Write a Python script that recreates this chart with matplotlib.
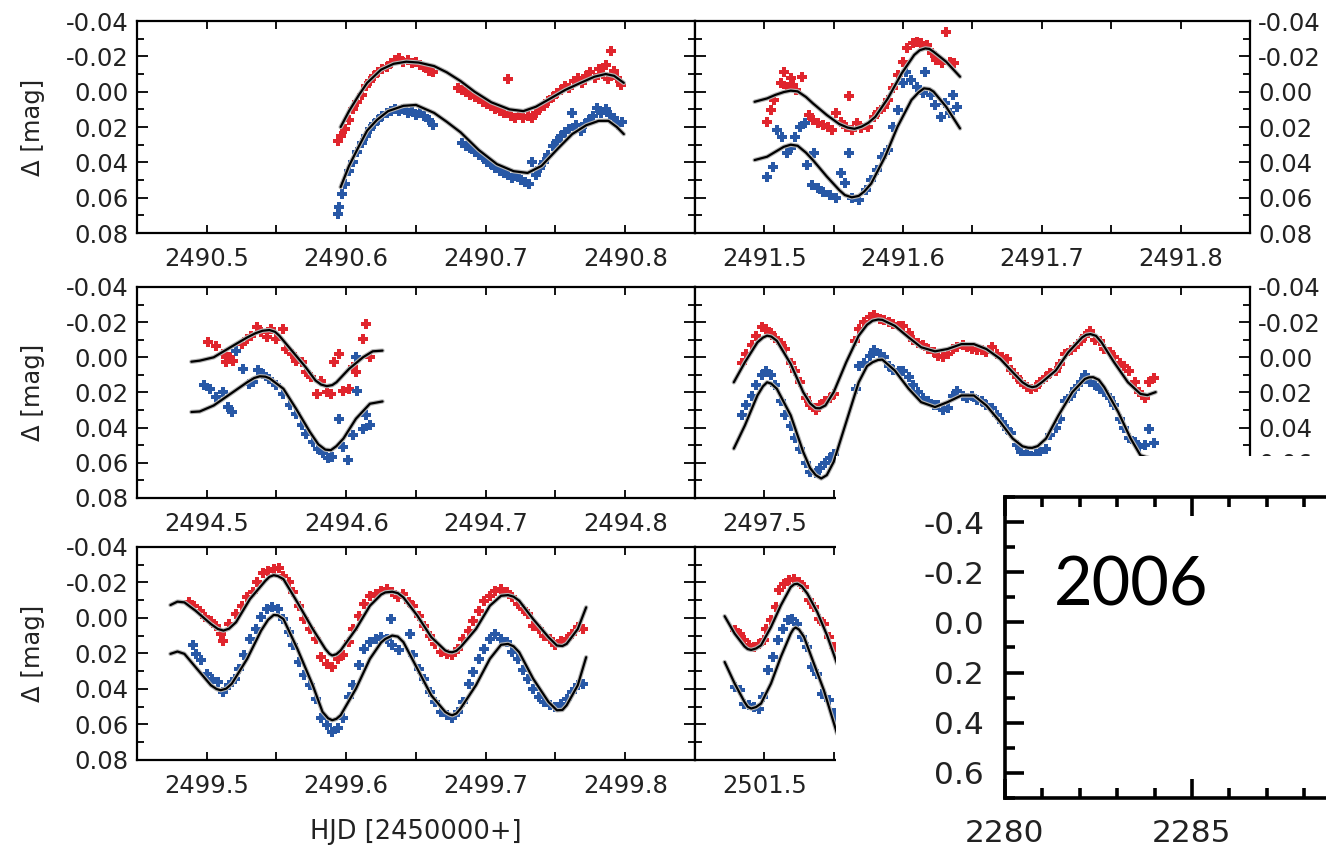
import matplotlib
matplotlib.use('Agg')
import matplotlib.pyplot as plt
from matplotlib.ticker import MultipleLocator, FuncFormatter, FixedLocator

plt.rcParams['axes.unicode_minus'] = False
plt.rcParams['font.family'] = ['DejaVu Sans']

RED = '#e0252d'
BLUE = '#2858a6'
TXT = '#222222'

### Panel 1: 2490.45 - 2490.85
tl_red_x = [2490.594, 2490.596, 2490.599, 2490.602, 2490.605, 2490.608, 2490.611, 2490.614, 2490.617, 2490.620,
            2490.623, 2490.626, 2490.629, 2490.632, 2490.635, 2490.638, 2490.641, 2490.644, 2490.647, 2490.650,
            2490.653, 2490.656, 2490.659, 2490.662, 2490.680, 2490.683, 2490.686, 2490.689, 2490.692, 2490.695,
            2490.698, 2490.701, 2490.704, 2490.707, 2490.710, 2490.713, 2490.716, 2490.718, 2490.721, 2490.724,
            2490.727, 2490.730, 2490.733, 2490.736, 2490.739, 2490.742, 2490.745, 2490.748, 2490.751, 2490.754,
            2490.757, 2490.760, 2490.763, 2490.766, 2490.769, 2490.772, 2490.775, 2490.778, 2490.781, 2490.784,
            2490.786, 2490.788, 2490.790, 2490.792, 2490.794, 2490.797]
tl_red_y = [0.028, 0.025, 0.021, 0.016, 0.010, 0.006, 0.002, -0.003, -0.006, -0.009,
            -0.011, -0.013, -0.014, -0.016, -0.018, -0.019, -0.017, -0.018, -0.016, -0.017,
            -0.015, -0.014, -0.012, -0.011, -0.002, -0.001, 0.000, 0.002, 0.003, 0.004,
            0.006, 0.007, 0.008, 0.010, 0.011, 0.012, -0.007, 0.014, 0.015, 0.013,
            0.015, 0.014, 0.015, 0.012, 0.009, 0.008, 0.005, 0.003, 0.001, -0.001,
            -0.003, -0.002, -0.006, -0.008, -0.005, -0.009, -0.011, -0.008, -0.013, -0.010,
            -0.015, -0.007, -0.023, -0.012, -0.008, -0.004]
tl_blue_x = [2490.594, 2490.595, 2490.597, 2490.599, 2490.602, 2490.605, 2490.608, 2490.611, 2490.614, 2490.617,
             2490.620, 2490.623, 2490.626, 2490.629, 2490.632, 2490.635, 2490.638, 2490.641, 2490.644, 2490.647,
             2490.650, 2490.653, 2490.656, 2490.659, 2490.662, 2490.683, 2490.686, 2490.689, 2490.692, 2490.695,
             2490.698, 2490.701, 2490.704, 2490.707, 2490.710, 2490.713, 2490.716, 2490.719, 2490.722, 2490.725,
             2490.728, 2490.731, 2490.733, 2490.736, 2490.739, 2490.742, 2490.745, 2490.748, 2490.751, 2490.754,
             2490.757, 2490.760, 2490.762, 2490.765, 2490.768, 2490.771, 2490.774, 2490.777, 2490.780, 2490.783,
             2490.786, 2490.789, 2490.792, 2490.795, 2490.798]
tl_blue_y = [0.069, 0.065, 0.058, 0.052, 0.045, 0.040, 0.034, 0.029, 0.025, 0.021,
             0.018, 0.016, 0.014, 0.012, 0.011, 0.010, 0.011, 0.010, 0.012, 0.011,
             0.013, 0.012, 0.014, 0.016, 0.019, 0.029, 0.031, 0.032, 0.034, 0.036,
             0.037, 0.040, 0.041, 0.043, 0.045, 0.046, 0.047, 0.049, 0.048, 0.050,
             0.051, 0.052, 0.040, 0.047, 0.043, 0.040, 0.036, 0.031, 0.028, 0.025,
             0.023, 0.021, 0.012, 0.019, 0.022, 0.018, 0.016, 0.014, 0.009, 0.012,
             0.010, 0.013, 0.015, 0.019, 0.017]
tl_fit_red_x = [2490.596, 2490.602, 2490.609, 2490.615, 2490.625, 2490.634, 2490.643, 2490.652, 2490.663, 2490.672,
                2490.682, 2490.692, 2490.704, 2490.717, 2490.727, 2490.736, 2490.746, 2490.757, 2490.768, 2490.778,
                2490.786, 2490.792, 2490.799]
tl_fit_red_y = [0.020, 0.011, 0.002, -0.005, -0.0125, -0.0158, -0.017, -0.0165, -0.0145, -0.011,
                -0.006, 0.000, 0.006, 0.010, 0.011, 0.0085, 0.004, -0.001, -0.005, -0.0085,
                -0.010, -0.009, -0.005]
tl_fit_blue_x = [2490.596, 2490.602, 2490.609, 2490.615, 2490.622, 2490.630, 2490.641, 2490.650, 2490.663, 2490.672,
                 2490.682, 2490.695, 2490.708, 2490.720, 2490.730, 2490.740, 2490.752, 2490.762, 2490.772, 2490.781,
                 2490.788, 2490.794, 2490.799]
tl_fit_blue_y = [0.054, 0.042, 0.031, 0.022, 0.016, 0.011, 0.008, 0.0075, 0.012, 0.017,
                 0.023, 0.033, 0.041, 0.045, 0.046, 0.042, 0.032, 0.024, 0.019, 0.0165,
                 0.0165, 0.020, 0.024]

### Panel 2: 2491.45 - 2491.85
tr_red_x = [2491.502, 2491.505, 2491.507, 2491.512, 2491.514, 2491.516, 2491.519, 2491.521, 2491.523, 2491.527,
            2491.532, 2491.535, 2491.539, 2491.542, 2491.546, 2491.549, 2491.552, 2491.555, 2491.559, 2491.561,
            2491.563, 2491.567, 2491.570, 2491.575, 2491.579, 2491.582, 2491.586, 2491.589, 2491.593, 2491.596,
            2491.600, 2491.603, 2491.607, 2491.610, 2491.613, 2491.617, 2491.621, 2491.624, 2491.628, 2491.631,
            2491.634, 2491.637]
tr_red_y = [0.017, 0.0104, 0.0047, -0.0047, -0.0113, -0.0028, -0.0075, -0.0038, -0.0009, -0.0081,
            0.0132, 0.016, 0.0179, 0.0189, 0.0198, 0.0217, 0.0123, 0.017, 0.0198, 0.0025,
            0.0217, 0.0179, 0.0208, 0.0198, 0.0142, 0.0113, 0.0085, 0.0047, -0.0019, -0.0094,
            -0.017, -0.0245, -0.0274, -0.0283, -0.0274, -0.0264, -0.0217, -0.0179, -0.016, -0.034,
            -0.017, -0.016]
tr_blue_x = [2491.502, 2491.506, 2491.509, 2491.513, 2491.516, 2491.519, 2491.522, 2491.526, 2491.529, 2491.531,
             2491.534, 2491.536, 2491.539, 2491.542, 2491.547, 2491.552, 2491.555, 2491.558, 2491.561, 2491.563,
             2491.568, 2491.573, 2491.577, 2491.581, 2491.585, 2491.589, 2491.593, 2491.596, 2491.600, 2491.602,
             2491.606, 2491.610, 2491.614, 2491.616, 2491.620, 2491.623, 2491.627, 2491.630, 2491.634, 2491.636,
             2491.639]
tr_blue_y = [0.0481, 0.0425, 0.0217, 0.0255, 0.0349, 0.032, 0.0255, 0.0198, 0.0179, 0.0415,
             0.0528, 0.0349, 0.0547, 0.0566, 0.0585, 0.0604, 0.0462, 0.0519, 0.0349, 0.0604,
             0.0613, 0.0557, 0.050, 0.0443, 0.0368, 0.033, 0.0198, 0.0104, -0.0047, -0.0113,
             -0.0066, -0.0028, 0.0009, -0.0113, 0.0019, 0.0075, 0.0142, 0.0066, 0.0123, 0.0019,
             0.0085]
tr_fit_red_x = [2491.493, 2491.502, 2491.508, 2491.514, 2491.519, 2491.524, 2491.530, 2491.535, 2491.545, 2491.554,
                2491.560, 2491.565, 2491.570, 2491.575, 2491.580, 2491.589, 2491.599, 2491.608, 2491.612, 2491.616,
                2491.619, 2491.622, 2491.631, 2491.641]
tr_fit_red_y = [0.0057, 0.0038, 0.0018, 0.0002, -0.0006, -0.0002, 0.0030, 0.0066, 0.0132, 0.0183,
                0.0203, 0.0210, 0.0198, 0.0176, 0.0142, 0.0038, -0.0104, -0.0208, -0.0235, -0.0245,
                -0.0242, -0.0226, -0.0170, -0.0085]
tr_fit_blue_x = [2491.493, 2491.502, 2491.508, 2491.514, 2491.519, 2491.524, 2491.530, 2491.535, 2491.545, 2491.554,
                 2491.558, 2491.563, 2491.568, 2491.572, 2491.577, 2491.587, 2491.596, 2491.606, 2491.611, 2491.615,
                 2491.619, 2491.622, 2491.631, 2491.641]
tr_fit_blue_y = [0.0387, 0.0368, 0.0340, 0.0312, 0.0300, 0.0306, 0.0345, 0.0387, 0.048, 0.0557,
                 0.0585, 0.0598, 0.059, 0.0565, 0.052, 0.0368, 0.0198, 0.0047, 0.0005, -0.0019,
                 -0.0015, 0.0, 0.0085, 0.0208]

### Panel 3: 2494.45 - 2494.85
ml_red_x = [2494.501, 2494.507, 2494.512, 2494.514, 2494.517, 2494.519, 2494.525, 2494.529, 2494.532, 2494.536,
            2494.539, 2494.543, 2494.546, 2494.550, 2494.555, 2494.557, 2494.561, 2494.564, 2494.568, 2494.571,
            2494.575, 2494.579, 2494.582, 2494.586, 2494.589, 2494.591, 2494.595, 2494.598, 2494.602, 2494.605,
            2494.607, 2494.612, 2494.614, 2494.617]
ml_red_y = [-0.0089, -0.0066, -0.0019, 0.0028, 0.0, 0.0019, -0.0075, -0.0104, -0.0123, -0.017,
            -0.0142, -0.0113, -0.016, -0.0104, -0.016, -0.0047, -0.0019, 0.0019, 0.0028, 0.0085,
            0.0113, 0.0208, 0.0132, 0.0198, 0.0208, 0.0028, -0.0019, 0.0189, 0.0179, 0.0057,
            0.0085, -0.0104, -0.0189, 0.0]
ml_blue_x = [2494.498, 2494.502, 2494.507, 2494.512, 2494.515, 2494.518, 2494.521, 2494.526, 2494.530, 2494.533,
             2494.537, 2494.540, 2494.545, 2494.550, 2494.555, 2494.560, 2494.564, 2494.568, 2494.571, 2494.576,
             2494.580, 2494.583, 2494.587, 2494.590, 2494.595, 2494.598, 2494.601, 2494.605, 2494.607, 2494.608,
             2494.612, 2494.614, 2494.617]
ml_blue_y = [0.016, 0.0179, 0.0226, 0.0198, 0.0283, 0.0311, -0.0038, 0.0066, 0.0151, 0.0142,
             0.0075, 0.0094, 0.0123, 0.016, 0.0208, 0.0274, 0.0321, 0.0387, 0.0434, 0.0481,
             0.0519, 0.0547, 0.0575, 0.0566, 0.0349, 0.0509, 0.0585, 0.0443, 0.0, 0.0189,
             0.0406, 0.033, 0.0387]
ml_fit_red_x = [2494.489, 2494.495, 2494.505, 2494.517, 2494.529, 2494.535, 2494.540, 2494.545, 2494.549, 2494.552,
                2494.561, 2494.571, 2494.578, 2494.582, 2494.586, 2494.590, 2494.593, 2494.602, 2494.612, 2494.619,
                2494.626]
ml_fit_red_y = [0.0025, 0.0019, 0.0, -0.0057, -0.0113, -0.0137, -0.0151, -0.0155, -0.0145, -0.0123,
                -0.0038, 0.0057, 0.0132, 0.0155, 0.0164, 0.0158, 0.0142, 0.0066, 0.0, -0.0034,
                -0.0038]
ml_fit_blue_x = [2494.489, 2494.495, 2494.505, 2494.517, 2494.529, 2494.534, 2494.538, 2494.542, 2494.545, 2494.555,
                 2494.564, 2494.574, 2494.580, 2494.585, 2494.589, 2494.593, 2494.598, 2494.607, 2494.617, 2494.626]
ml_fit_blue_y = [0.0311, 0.0308, 0.0274, 0.0208, 0.0142, 0.0118, 0.0108, 0.0110, 0.0119, 0.0179,
                 0.0292, 0.0425, 0.0495, 0.0525, 0.0528, 0.0505, 0.0462, 0.0349, 0.0264, 0.0251]

### Panel 4: 2497.45 - 2497.85
mr_red_x = [2497.484, 2497.487, 2497.491, 2497.494, 2497.498, 2497.501, 2497.505, 2497.508, 2497.512, 2497.515,
            2497.519, 2497.522, 2497.526, 2497.530, 2497.533, 2497.537, 2497.540, 2497.544, 2497.547, 2497.550,
            2497.565, 2497.568, 2497.572, 2497.576, 2497.579, 2497.583, 2497.586, 2497.590, 2497.593, 2497.597,
            2497.600, 2497.604, 2497.607, 2497.611, 2497.614, 2497.618, 2497.622, 2497.625, 2497.629, 2497.632,
            2497.636, 2497.639, 2497.643, 2497.646, 2497.650, 2497.653, 2497.657, 2497.660, 2497.664, 2497.668,
            2497.671, 2497.675, 2497.678, 2497.682, 2497.685, 2497.689, 2497.692, 2497.696, 2497.699, 2497.703,
            2497.706, 2497.710, 2497.713, 2497.717, 2497.721, 2497.724, 2497.728, 2497.731, 2497.735, 2497.738,
            2497.742, 2497.745, 2497.749, 2497.752, 2497.756, 2497.759, 2497.763, 2497.767, 2497.770, 2497.774,
            2497.777, 2497.781]
mr_red_y = [0.003, -0.002, -0.007, -0.012, -0.017, -0.016, -0.014, -0.011, -0.008, -0.005,
            0.003, 0.008, 0.014, 0.023, 0.027, 0.030, 0.027, 0.025, 0.023, 0.021,
            -0.009, -0.016, -0.020, -0.023, -0.024, -0.022, -0.021, -0.020, -0.019, -0.018,
            -0.018, -0.014, -0.010, -0.008, -0.007, -0.005, -0.003, -0.001, 0.000, -0.002,
            -0.005, -0.006, -0.007, -0.006, -0.005, -0.004, -0.004, -0.003, -0.006, -0.002,
            0.000, 0.001, 0.007, 0.011, 0.014, 0.017, 0.018, 0.017, 0.014, 0.011,
            0.009, 0.008, 0.004, -0.002, -0.004, -0.006, -0.009, -0.012, -0.015, -0.010,
            -0.009, -0.005, -0.003, 0.000, 0.003, 0.005, 0.008, 0.014, 0.020, 0.023,
            0.014, 0.012]
mr_blue_x = [2497.484, 2497.487, 2497.491, 2497.494, 2497.498, 2497.501, 2497.505, 2497.508, 2497.512, 2497.515,
             2497.519, 2497.522, 2497.526, 2497.530, 2497.533, 2497.537, 2497.540, 2497.544, 2497.547, 2497.550,
             2497.566, 2497.568, 2497.572, 2497.576, 2497.579, 2497.583, 2497.586, 2497.590, 2497.593, 2497.597,
             2497.600, 2497.604, 2497.607, 2497.611, 2497.614, 2497.618, 2497.622, 2497.625, 2497.629, 2497.632,
             2497.636, 2497.639, 2497.643, 2497.646, 2497.650, 2497.653, 2497.657, 2497.660, 2497.664, 2497.668,
             2497.671, 2497.675, 2497.678, 2497.682, 2497.685, 2497.689, 2497.692, 2497.696, 2497.699, 2497.703,
             2497.706, 2497.710, 2497.713, 2497.717, 2497.721, 2497.724, 2497.728, 2497.731, 2497.735, 2497.738,
             2497.742, 2497.745, 2497.749, 2497.752, 2497.756, 2497.759, 2497.763, 2497.767, 2497.770, 2497.774,
             2497.777, 2497.781]
mr_blue_y = [0.033, 0.027, 0.022, 0.016, 0.010, 0.008, 0.010, 0.016, 0.025, 0.033,
             0.039, 0.046, 0.052, 0.060, 0.065, 0.066, 0.063, 0.060, 0.057, 0.055,
             0.018, 0.005, 0.003, -0.001, -0.004, -0.002, 0.000, 0.005, 0.007, 0.008,
             0.008, 0.011, 0.016, 0.020, 0.023, 0.025, 0.027, 0.027, 0.030, 0.029,
             0.022, 0.019, 0.022, 0.023, 0.022, 0.024, 0.025, 0.027, 0.029, 0.033,
             0.037, 0.041, 0.043, 0.050, 0.054, 0.055, 0.056, 0.055, 0.054, 0.052,
             0.044, 0.040, 0.035, 0.025, 0.022, 0.018, 0.014, 0.010, 0.014, 0.016,
             0.018, 0.020, 0.023, 0.027, 0.035, 0.040, 0.046, 0.048, 0.051, 0.050,
             0.041, 0.049]
mr_fit_red_x = [2497.478, 2497.486, 2497.495, 2497.499, 2497.502, 2497.505, 2497.509, 2497.519, 2497.528, 2497.533,
                2497.537, 2497.540, 2497.544, 2497.550, 2497.559, 2497.568, 2497.574, 2497.578, 2497.582, 2497.585,
                2497.594, 2497.604, 2497.613, 2497.623, 2497.632, 2497.642, 2497.651, 2497.660, 2497.670, 2497.679,
                2497.686, 2497.690, 2497.693, 2497.696, 2497.700, 2497.710, 2497.719, 2497.729, 2497.732, 2497.735,
                2497.739, 2497.743, 2497.752, 2497.762, 2497.771, 2497.776, 2497.782]
mr_fit_red_y = [0.0142, 0.0028, -0.0085, -0.0112, -0.0123, -0.0118, -0.0094, 0.0038, 0.0198, 0.0262,
                0.0289, 0.0290, 0.0274, 0.0198, 0.0028, -0.0123, -0.0185, -0.0208, -0.0215, -0.0213,
                -0.0179, -0.0113, -0.0057, -0.0034, -0.0047, -0.0075, -0.0075, -0.0047, 0.0009, 0.0085,
                0.0142, 0.0162, 0.017, 0.0165, 0.0142, 0.0075, -0.0028, -0.0113, -0.0128, -0.0132,
                -0.0122, -0.0085, 0.0028, 0.0142, 0.0208, 0.0215, 0.0198]
mr_fit_blue_x = [2497.478, 2497.486, 2497.495, 2497.499, 2497.502, 2497.505, 2497.509, 2497.519, 2497.528, 2497.533,
                 2497.537, 2497.541, 2497.545, 2497.550, 2497.559, 2497.568, 2497.574, 2497.578, 2497.582, 2497.585,
                 2497.594, 2497.604, 2497.613, 2497.623, 2497.632, 2497.642, 2497.651, 2497.660, 2497.670, 2497.679,
                 2497.686, 2497.690, 2497.693, 2497.697, 2497.703, 2497.712, 2497.722, 2497.731, 2497.734, 2497.737,
                 2497.741, 2497.745, 2497.755, 2497.764, 2497.771, 2497.778]
mr_fit_blue_y = [0.0519, 0.0387, 0.0217, 0.0165, 0.0142, 0.0150, 0.0179, 0.033, 0.0538, 0.0630,
                 0.067, 0.0689, 0.0670, 0.0594, 0.0368, 0.0142, 0.0050, 0.0028, 0.0015, 0.0013,
                 0.0075, 0.0179, 0.0255, 0.0283, 0.0255, 0.0217, 0.0217, 0.0274, 0.0368, 0.0462,
                 0.0506, 0.0514, 0.0515, 0.0505, 0.0462, 0.033, 0.0198, 0.0123, 0.0114, 0.0113,
                 0.0128, 0.017, 0.0311, 0.0462, 0.0557, 0.0575]

### Panel 5: 2499.45 - 2499.85
bl_red_x = [2499.487, 2499.491, 2499.495, 2499.499, 2499.503, 2499.507, 2499.510, 2499.512, 2499.516, 2499.521,
            2499.525, 2499.529, 2499.533, 2499.536, 2499.540, 2499.544, 2499.548, 2499.552, 2499.555, 2499.559,
            2499.562, 2499.566, 2499.570, 2499.574, 2499.578, 2499.582, 2499.586, 2499.590, 2499.594, 2499.598,
            2499.602, 2499.605, 2499.609, 2499.613, 2499.617, 2499.621, 2499.625, 2499.629, 2499.633, 2499.637,
            2499.641, 2499.645, 2499.648, 2499.652, 2499.656, 2499.660, 2499.664, 2499.668, 2499.672, 2499.676,
            2499.680, 2499.684, 2499.688, 2499.691, 2499.695, 2499.699, 2499.703, 2499.707, 2499.711, 2499.715,
            2499.719, 2499.723, 2499.727, 2499.730, 2499.734, 2499.738, 2499.742, 2499.746, 2499.750, 2499.754,
            2499.758, 2499.762, 2499.766, 2499.770]
bl_red_y = [-0.0088, -0.0069, -0.0041, -0.0004, 0.0015, 0.0043, 0.009, 0.0127, 0.0034, -0.0022,
            -0.0069, -0.0116, -0.0144, -0.020, -0.0256, -0.0265, -0.0275, -0.0284, -0.0237, -0.020,
            -0.0144, -0.0069, 0.0006, 0.0062, 0.0118, 0.0221, 0.0258, 0.0277, 0.023, 0.0211,
            0.0136, 0.0062, -0.0013, -0.0079, -0.0125, -0.0135, -0.0153, -0.0163, -0.0144, -0.0116,
            -0.0135, -0.0088, -0.0069, -0.0013, 0.0043, 0.0099, 0.0146, 0.0193, 0.0202, 0.0211,
            0.0174, 0.0118, 0.0071, 0.0015, -0.0041, -0.0097, -0.0125, -0.0153, -0.0163, -0.0144,
            -0.0116, -0.0079, -0.005, -0.0022, 0.0043, 0.0062, 0.0099, 0.0118, 0.0155, 0.0127,
            0.0118, 0.009, 0.0052, 0.0062]
bl_blue_x = [2499.490, 2499.492, 2499.496, 2499.500, 2499.504, 2499.508, 2499.512, 2499.516, 2499.520, 2499.523,
             2499.527, 2499.531, 2499.535, 2499.539, 2499.543, 2499.547, 2499.551, 2499.555, 2499.559, 2499.562,
             2499.566, 2499.570, 2499.574, 2499.578, 2499.582, 2499.586, 2499.590, 2499.594, 2499.598, 2499.602,
             2499.605, 2499.609, 2499.613, 2499.617, 2499.621, 2499.625, 2499.629, 2499.632, 2499.633, 2499.638,
             2499.646, 2499.648, 2499.652, 2499.656, 2499.660, 2499.664, 2499.668, 2499.672, 2499.676, 2499.680,
             2499.684, 2499.688, 2499.691, 2499.695, 2499.699, 2499.703, 2499.707, 2499.711, 2499.715, 2499.719,
             2499.723, 2499.727, 2499.730, 2499.734, 2499.738, 2499.742, 2499.746, 2499.750, 2499.754, 2499.758,
             2499.762, 2499.766, 2499.770]
bl_blue_y = [0.0155, 0.0202, 0.0239, 0.0314, 0.0342, 0.0361, 0.0417, 0.0379, 0.0342, 0.0286,
             0.0211, 0.0118, 0.0062, -0.0004, -0.005, -0.006, -0.005, 0.0006, 0.008, 0.0155,
             0.0249, 0.0323, 0.0379, 0.0454, 0.0566, 0.0604, 0.0641, 0.0622, 0.0566, 0.0445,
             0.0379, 0.0267, 0.0174, 0.0136, 0.0118, 0.0108, 0.0118, 0.0006, 0.0155, 0.0183,
             0.009, 0.0211, 0.0286, 0.0342, 0.0417, 0.0473, 0.0529, 0.0548, 0.0566, 0.0529,
             0.0473, 0.037, 0.0305, 0.023, 0.0174, 0.0118, 0.009, 0.0118, 0.0136, 0.0193,
             0.023, 0.0295, 0.0342, 0.0398, 0.0445, 0.0473, 0.0492, 0.0501, 0.0482, 0.0454,
             0.0417, 0.0379, 0.037]
bl_fit_red_x = [2499.474, 2499.479, 2499.484, 2499.492, 2499.503, 2499.508, 2499.512, 2499.516, 2499.521, 2499.531,
                2499.542, 2499.545, 2499.548, 2499.551, 2499.555, 2499.565, 2499.576, 2499.585, 2499.588, 2499.590,
                2499.593, 2499.596, 2499.607, 2499.617, 2499.625, 2499.628, 2499.633, 2499.637, 2499.641, 2499.651,
                2499.661, 2499.671, 2499.674, 2499.676, 2499.679, 2499.682, 2499.693, 2499.703, 2499.711, 2499.716,
                2499.720, 2499.724, 2499.734, 2499.745, 2499.751, 2499.755, 2499.758, 2499.766, 2499.772]
bl_fit_red_y = [-0.0073, -0.0092, -0.0088, -0.0041, 0.0034, 0.0062, 0.0071, 0.0060, 0.0024, -0.0107,
                -0.0209, -0.0232, -0.0241, -0.0236, -0.0219, -0.0088, 0.0062, 0.0174, 0.0202, 0.0211,
                0.0204, 0.0183, 0.0062, -0.0069, -0.0132, -0.0144, -0.0148, -0.0140, -0.0116, -0.0013,
                0.0108, 0.0183, 0.0192, 0.0193, 0.0185, 0.0164, 0.0062, -0.0069, -0.0125, -0.0129,
                -0.0120, -0.0097, 0.0006, 0.0108, 0.0155, 0.0158, 0.0146, 0.0062, -0.006]
bl_fit_blue_x = [2499.474, 2499.479, 2499.484, 2499.492, 2499.503, 2499.507, 2499.510, 2499.514, 2499.518, 2499.529,
                 2499.539, 2499.544, 2499.548, 2499.551, 2499.555, 2499.565, 2499.576, 2499.583, 2499.587, 2499.590,
                 2499.593, 2499.596, 2499.607, 2499.617, 2499.625, 2499.628, 2499.633, 2499.637, 2499.641, 2499.651,
                 2499.661, 2499.671, 2499.674, 2499.676, 2499.679, 2499.682, 2499.693, 2499.703, 2499.711, 2499.716,
                 2499.720, 2499.724, 2499.734, 2499.745, 2499.751, 2499.755, 2499.758, 2499.766, 2499.772]
bl_fit_blue_y = [0.0202, 0.0189, 0.0202, 0.0277, 0.0379, 0.0400, 0.0407, 0.0398, 0.037, 0.023,
                 0.0071, 0.0010, -0.0017, -0.0015, 0.0006, 0.0174, 0.0379, 0.0529, 0.0565, 0.0576,
                 0.0568, 0.0548, 0.0398, 0.023, 0.0138, 0.0118, 0.0099, 0.0105, 0.0136, 0.0286,
                 0.0436, 0.0529, 0.0543, 0.0548, 0.0538, 0.051, 0.0379, 0.023, 0.0151, 0.0146,
                 0.0160, 0.0193, 0.0342, 0.0473, 0.052, 0.0518, 0.0492, 0.0379, 0.0221]

### Panel 6: 2501.45 - 2501.85
br_red_x = [2501.4786, 2501.4821, 2501.4857, 2501.4893, 2501.4929, 2501.4964, 2501.500, 2501.5012, 2501.5048, 2501.5083,
            2501.5107, 2501.5143, 2501.5179, 2501.5214, 2501.525, 2501.5286, 2501.5321, 2501.5357, 2501.5393, 2501.5429,
            2501.5464, 2501.550]
br_red_y = [0.0069, 0.0088, 0.0126, 0.0154, 0.0163, 0.0144, 0.0126, 0.006, 0.0013, -0.0062,
            -0.0156, -0.0193, -0.0212, -0.0221, -0.0203, -0.0174, -0.0099, -0.0062, 0.0004, 0.0032,
            0.0107, 0.0163]
br_blue_x = [2501.4786, 2501.4821, 2501.4857, 2501.4893, 2501.4929, 2501.4964, 2501.4988, 2501.5024, 2501.506, 2501.5095,
             2501.5131, 2501.5167, 2501.5202, 2501.5238, 2501.5274, 2501.531, 2501.5345, 2501.5381, 2501.5417, 2501.5464,
             2501.550, 2501.5524]
br_blue_y = [0.0388, 0.0407, 0.0482, 0.0491, 0.0501, 0.051, 0.0444, 0.0294, 0.0219, 0.0126,
             0.006, 0.0013, 0.0004, 0.0032, 0.0107, 0.0163, 0.0276, 0.0313, 0.0426, 0.0463,
             0.0538, 0.0576]
br_fit_red_x = [2501.4714, 2501.4786, 2501.4857, 2501.4880, 2501.4905, 2501.4940, 2501.4976, 2501.5048, 2501.5119, 2501.519,
                2501.5215, 2501.5238, 2501.527, 2501.531, 2501.5381, 2501.5452, 2501.5524]
br_fit_red_y = [-0.001, 0.0088, 0.016, 0.0175, 0.018, 0.0172, 0.0154, 0.0051, -0.0071, -0.0174,
                -0.0190, -0.0193, -0.0178, -0.0137, -0.0034, 0.0098, 0.0257]
br_fit_blue_x = [2501.4714, 2501.4786, 2501.4857, 2501.4880, 2501.4905, 2501.4940, 2501.4976, 2501.5048, 2501.5119, 2501.519,
                 2501.5210, 2501.5226, 2501.525, 2501.5286, 2501.5357, 2501.5429, 2501.5524]
br_fit_blue_y = [0.0248, 0.0369, 0.0473, 0.0500, 0.051, 0.0502, 0.0482, 0.0369, 0.0219, 0.0088,
                 0.0062, 0.0054, 0.0065, 0.0107, 0.0257, 0.0407, 0.0651]

### Inset (2006 figure)
inset_xlim = [2280, 2295]
inset_xticks = [2280, 2285]
inset_ylim = [0.7, -0.5]
inset_label = '2006'


def fmt(decimals, upto=None):
    def f(v, pos):
        if upto is not None and v > upto:
            return ''
        if abs(v) < 1e-9:
            v = 0.0
        return '%.*f' % (decimals, v)
    return FuncFormatter(f)


def light_curve(rect, x0, red, blue, fit_red, fit_blue, side, x_upto=None, ylabels=True):
    ax = fig.add_axes(rect)
    ax.plot(red[0], red[1], 'P', color=RED, ms=7.5, mew=0, zorder=2)
    ax.plot(blue[0], blue[1], 'P', color=BLUE, ms=7.5, mew=0, zorder=2)
    for fx, fy in (fit_red, fit_blue):
        ax.plot(fx, fy, '-', color='#b5b5b5', lw=3.2, zorder=3,
                solid_capstyle='round', solid_joinstyle='round')
        ax.plot(fx, fy, '-', color='black', lw=1.6, zorder=4,
                solid_capstyle='round', solid_joinstyle='round')
    ax.set_xlim(x0, x0 + 0.4)
    ax.set_ylim(0.08, -0.04)
    ax.xaxis.set_major_locator(MultipleLocator(0.1))
    ax.xaxis.set_minor_locator(MultipleLocator(0.05))
    ax.yaxis.set_major_locator(MultipleLocator(0.02))
    ax.yaxis.set_minor_locator(MultipleLocator(0.01))
    ax.xaxis.set_major_formatter(fmt(1, x_upto))
    ax.yaxis.set_major_formatter(fmt(2))
    ax.tick_params(which='both', direction='in', top=True, right=True, width=1.3,
                   labelsize=17.5, labelcolor=TXT)
    ax.tick_params(axis='x', which='both', length=6, pad=10)
    ax.tick_params(axis='y', which='major', length=8, pad=6)
    ax.tick_params(axis='y', which='minor', length=5)
    if side == 'right':
        ax.tick_params(axis='y', labelleft=False, labelright=ylabels)
    for s in ax.spines.values():
        s.set_linewidth(1.6)
    return ax


fig = plt.figure(figsize=(13.26, 8.52), dpi=100)

L = [0.1033, 0.4208]
R = [0.5241, 0.4186]
rows = [(0.7265, 0.2488), (0.4155, 0.2477), (0.1080, 0.2500)]

light_curve([L[0], rows[0][0], L[1], rows[0][1]], 2490.45, (tl_red_x, tl_red_y), (tl_blue_x, tl_blue_y),
            (tl_fit_red_x, tl_fit_red_y), (tl_fit_blue_x, tl_fit_blue_y), 'left')
light_curve([R[0], rows[0][0], R[1], rows[0][1]], 2491.45, (tr_red_x, tr_red_y), (tr_blue_x, tr_blue_y),
            (tr_fit_red_x, tr_fit_red_y), (tr_fit_blue_x, tr_fit_blue_y), 'right')
light_curve([L[0], rows[1][0], L[1], rows[1][1]], 2494.45, (ml_red_x, ml_red_y), (ml_blue_x, ml_blue_y),
            (ml_fit_red_x, ml_fit_red_y), (ml_fit_blue_x, ml_fit_blue_y), 'left')
# the pasted 2006 panel hides most of the lower right
light_curve([R[0], rows[1][0], R[1], rows[1][1]], 2497.45, (mr_red_x, mr_red_y), (mr_blue_x, mr_blue_y),
            (mr_fit_red_x, mr_fit_red_y), (mr_fit_blue_x, mr_fit_blue_y), 'right', x_upto=2497.55)
light_curve([L[0], rows[2][0], L[1], rows[2][1]], 2499.45, (bl_red_x, bl_red_y), (bl_blue_x, bl_blue_y),
            (bl_fit_red_x, bl_fit_red_y), (bl_fit_blue_x, bl_fit_blue_y), 'left')
light_curve([R[0], rows[2][0], R[1], rows[2][1]], 2501.45, (br_red_x, br_red_y), (br_blue_x, br_blue_y),
            (br_fit_red_x, br_fit_red_y), (br_fit_blue_x, br_fit_blue_y), 'right', x_upto=2501.55, ylabels=False)

for b, h in rows:
    fig.text(0.0249, b + h / 2, 'Δ [mag]', rotation=90, ha='center', va='center',
             fontsize=17.5, color=TXT)
fig.text(0.3137, 0.0235, 'HJD [2450000+]', ha='center', va='center', fontsize=18.5, color=TXT)

### White patch of the pasted 2006 panel
cover = fig.add_axes([0.6305, 0.0, 0.3695, 0.4648], zorder=5)
cover.set_facecolor('white')
cover.set_xticks([])
cover.set_yticks([])
for s in cover.spines.values():
    s.set_visible(False)

ins = fig.add_axes([0.7579, 0.0634, 0.4231, 0.3533], zorder=6)
ins.set_xlim(inset_xlim)
ins.set_ylim(inset_ylim)
ins.xaxis.set_major_locator(FixedLocator(inset_xticks))
ins.xaxis.set_minor_locator(MultipleLocator(1))
ins.yaxis.set_major_locator(MultipleLocator(0.2))
ins.yaxis.set_minor_locator(MultipleLocator(0.1))
ins.xaxis.set_major_formatter(fmt(0))
ins.yaxis.set_major_formatter(fmt(1))
ins.tick_params(which='both', direction='in', top=True, right=True, width=2.6,
                labelsize=22.5, labelcolor=TXT)
ins.tick_params(which='major', length=14)
ins.tick_params(which='minor', length=7)
ins.tick_params(axis='x', pad=15)
ins.tick_params(axis='y', pad=15)
for s in ins.spines.values():
    s.set_linewidth(2.6)
ins.text(2281.3, -0.069, inset_label, ha='left', va='baseline', fontsize=48,
         family=['Lato', 'DejaVu Sans'], color='black')

fig.savefig('out.png', dpi=100)
